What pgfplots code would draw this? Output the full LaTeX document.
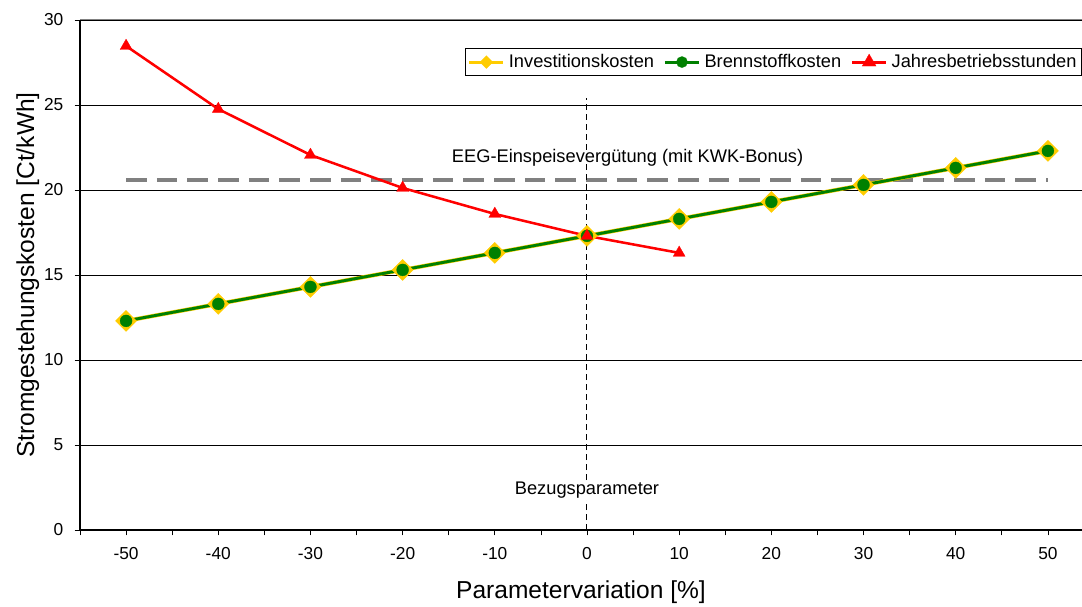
\documentclass[border=0pt]{standalone}
\usepackage{fontspec}
\setmainfont{Liberation Sans}
\usepackage{pgfplots}
\pgfplotsset{compat=1.18}
\definecolor{invy}{HTML}{FFCC00}
\definecolor{bgreen}{HTML}{008000}
\definecolor{jred}{HTML}{FF0000}
\definecolor{eeggray}{HTML}{808080}
\begin{document}
\begin{tikzpicture}
\begin{axis}[name=ax, scale only axis, width=751.5pt, height=382.5pt,
 xmin=-55, xmax=53.7, ymin=0, ymax=30,
 axis x line=bottom, axis y line=left, axis line style={-, black, line width=0.9pt},
 xtick={-50,-40,...,50}, minor xtick={-55,-45,...,45},
 ytick={0,5,...,30},
 tick align=outside, major tick length=4pt, minor tick length=4pt,
 tick style={black, line width=0.6pt},
 ymajorgrids, major grid style={black, line width=0.7pt},
 /pgf/number format/assume math mode=true,
 ticklabel style={font=\fontsize{13}{15}\selectfont},
 xticklabel style={yshift=-5.5pt},
 yticklabel style={xshift=-5pt},
 xlabel={Parametervariation [\%]}, ylabel={Stromgestehungskosten [Ct/kWh]},
 label style={font=\fontsize{18.4}{22}\selectfont},
 xlabel style={at={(axis description cs:0.5,-0.1216)}, anchor=center},
 ylabel style={at={(axis description cs:-0.052,0.5)}, anchor=center},
 legend columns=3,
 legend style={at={(0.384,0.945)}, anchor=north west, draw=black, line width=0.6pt,
   font=\fontsize{13.7}{15}\selectfont, inner xsep=2pt, inner ysep=2.5pt,
   /tikz/every odd column/.append style={column sep=1pt},
   /tikz/every even column/.append style={column sep=5pt}},
 legend image code/.code={\draw[mark repeat=2,mark phase=2] plot coordinates {(0cm,0cm) (0.45cm,0cm) (0.9cm,0cm)};},
]
\addlegendimage{invy, line width=2.2pt, mark=square*, mark size=3.4pt, mark options={rotate=45, fill=invy, draw=invy, line width=0.2pt}}
\addlegendentry{Investitionskosten}
\addlegendimage{bgreen, line width=2.2pt, mark=*, mark size=4.2pt, mark options={fill=bgreen, draw=bgreen, line width=0.2pt}}
\addlegendentry{Brennstoffkosten}
\addlegendimage{jred, line width=2.2pt, mark=triangle*, mark size=6pt, mark options={fill=jred, draw=jred, line width=0.2pt}}
\addlegendentry{Jahresbetriebsstunden}
\addplot[eeggray, line width=3pt, dash pattern=on 15.5pt off 7.5pt, forget plot] coordinates {(-50,20.6) (50,20.6)};
\addplot[black, line width=0.75pt, dash pattern=on 4.5pt off 3pt, forget plot] coordinates {(0,0) (0,25.4)};
\addplot[gray, line width=0.75pt, forget plot] coordinates {(-55,30) (53.7,30)};
\addplot[invy, line width=3pt, mark=square*, mark size=5.6pt, forget plot,
  mark options={rotate=45, fill=invy, draw=invy, line width=0.2pt}] coordinates {
 (-50,12.3) (-40,13.3) (-30,14.3) (-20,15.3) (-10,16.3) (0,17.3) (10,18.3) (20,19.3) (30,20.3) (40,21.3) (50,22.3)};
\addplot[bgreen, line width=2.2pt, mark=*, mark size=4.5pt, forget plot,
  mark options={fill=bgreen, draw=bgreen, line width=0.2pt}] coordinates {
 (-50,12.3) (-40,13.3) (-30,14.3) (-20,15.3) (-10,16.3) (0,17.3) (10,18.3) (20,19.3) (30,20.3) (40,21.3) (50,22.3)};
\addplot[jred, line width=1.9pt, mark=triangle*, mark size=5.2pt, forget plot,
  mark options={fill=jred, draw=jred, line width=0.2pt}] coordinates {
 (-50,28.47) (-40,24.76) (-30,22.06) (-20,20.12) (-10,18.59) (0,17.3) (10,16.3)};
\node[font=\fontsize{13.7}{16}\selectfont, fill=white, inner sep=1pt] at (axis cs:0,2.35) {Bezugsparameter};
\node[font=\fontsize{13.7}{16}\selectfont] at (axis cs:4.4,21.9) {EEG-Einspeisevergütung (mit KWK-Bonus)};
\end{axis}
\pgfresetboundingbox
\path ([shift={(-60pt,-57pt)}]ax.south west) rectangle ([shift={(0pt,15pt)}]ax.north east);
\end{tikzpicture}
\end{document}
